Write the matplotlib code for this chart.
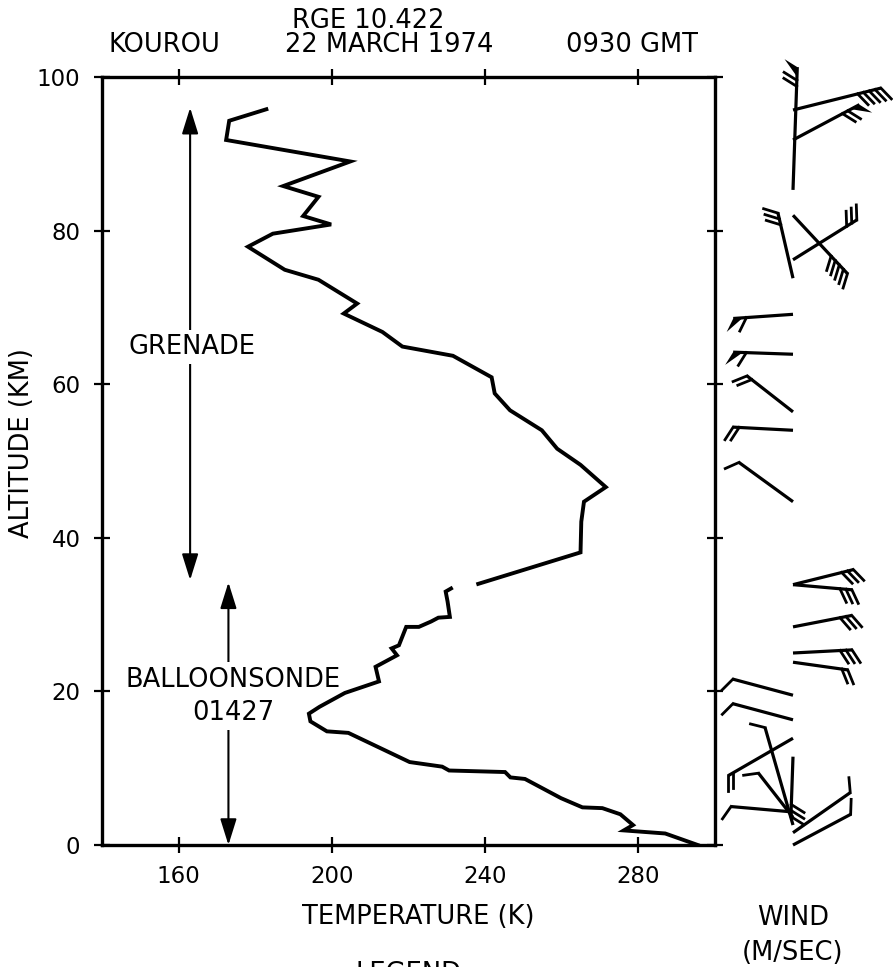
import matplotlib
matplotlib.use('Agg')
import matplotlib.pyplot as plt
import numpy as np

plt.rcParams['font.family'] = 'DejaVu Sans'

# ── 온도 프로파일 (GRENADE) ──
grenade_temp = [182.9, 173.2, 172.4, 204.8, 187.3, 196.5, 192.5, 199.8, 184.6, 178.1,
                187.7, 196.5, 206.6, 203.1, 213.2, 218.4, 231.6, 241.7, 242.5, 246.5,
                254.8, 258.8, 264.9, 271.5, 265.8, 265.1, 264.9, 238.2]
grenade_alt = [95.8, 94.3, 91.8, 89.0, 85.8, 84.4, 81.9, 80.8, 79.6, 77.9,
               74.9, 73.6, 70.5, 69.2, 66.8, 64.9, 63.7, 60.9, 58.8, 56.6,
               54.0, 51.6, 49.5, 46.6, 44.7, 42.1, 38.1, 34.0]

# ── 온도 프로파일 (BALLOONSONDE) ──
sonde_temp = [231.1, 229.7, 230.2, 230.8, 227.8, 225.9, 222.7, 219.4, 217.5, 215.6,
              217.0, 211.4, 212.3, 203.4, 196.8, 194.0, 194.4, 198.7, 204.3, 220.3,
              228.8, 230.6, 245.2, 246.6, 250.4, 259.8, 265.4, 270.6, 275.3, 278.6,
              276.2, 287.0, 295.5]
sonde_alt = [33.4, 33.0, 31.7, 29.7, 29.6, 29.1, 28.4, 28.4, 26.0, 25.6,
             24.7, 23.2, 21.3, 19.8, 18.0, 17.1, 16.1, 14.8, 14.6, 10.8,
             10.2, 9.7, 9.5, 8.8, 8.6, 6.1, 4.9, 4.8, 4.0, 2.6,
             1.9, 1.5, 0.0]

# ── 바람 (barb) ──
wind_alt = [85.3, 95.7, 91.8, 82.0, 76.2, 73.8, 69.1, 63.9, 56.4, 54.0, 44.7,
            33.9, 33.9, 28.4, 25.0, 23.8, 19.5, 16.3, 13.9, 11.5, 2.6, 3.6, 4.3, 1.6, 0.0]
wind_dir = [2, 76, 62, 137, 58, 347, 266, 272, 308, 273, 306,
            76, 95, 79, 87, 98, 285, 285, 240, 182, 344, 322, 275, 55, 62]
wind_len = [16.0, 11.8, 9.8, 10.4, 9.8, 8.7, 7.8, 7.8, 7.6, 7.8, 8.7,
            8.1, 7.7, 7.8, 7.7, 7.2, 8.1, 8.1, 9.8, 7.8, 13.2, 7.3, 8.1, 9.1, 8.5]
wind_feath = [2, 5, 2, 5, 3, 3, 1, 1, 2, 2, 1, 3, 3, 3, 3, 2, 1, 1, 2, 3, 1, 1, 1, 1, 1]
wind_flag = [1, 0, 1, 0, 0, 0, 1, 1, 0, 0, 0, 0, 0, 0, 0, 0, 0, 0, 0, 0, 0, 0, 0, 0, 0]
wind_side = [-1, 1, 1, 1, -1, -1, -1, -1, -1, -1, -1, 1, 1, 1, 1, 1,
             -1, -1, -1, -1, -1, -1, -1, -1, -1]

temp_ticks = [160, 200, 240, 280]
alt_ticks = [0, 20, 40, 60, 80, 100]

W, H = 893, 967
PX_KM = 7.68   # 1 km 당 픽셀


def fx(px):
    return px / W


def fy(py):
    return 1 - py / H


fig = plt.figure(figsize=(W / 100, H / 100), dpi=100, facecolor='white')
ax = fig.add_axes([fx(102), fy(845), (715 - 102) / W, (845 - 77) / H])

ax.plot(grenade_temp, grenade_alt, color='k', lw=2.8, solid_joinstyle='miter', zorder=5)
ax.plot(sonde_temp, sonde_alt, color='k', lw=2.8, solid_joinstyle='miter', zorder=5)

ax.set_xlim(140, 300)
ax.set_ylim(0, 100)
ax.set_xticks(temp_ticks)
ax.set_yticks(alt_ticks)
ax.tick_params(axis='both', direction='inout', length=11, width=1.6,
               labelsize=16.5, pad=9, top=True, right=True)
ax.tick_params(axis='y', pad=10)
for sp in ax.spines.values():
    sp.set_linewidth(2.4)

# ── 측정 구간 화살표 ──
arrow_kw = dict(arrowstyle='<|-|>,head_length=0.8,head_width=0.25',
                color='k', lw=1.5, mutation_scale=20, shrinkA=0, shrinkB=0)
ax.annotate('', xy=(163, 96), xytext=(163, 34.5), arrowprops=arrow_kw)
ax.annotate('', xy=(173, 34.2), xytext=(173, 0), arrowprops=arrow_kw)

ax.text(163.6, 64.8, 'GRENADE', fontsize=18.5, ha='center', va='center', zorder=3,
        bbox=dict(facecolor='white', edgecolor='none', pad=3))
ax.text(174.2, 19.4, 'BALLOONSONDE\n01427', fontsize=18.5, ha='center', va='center',
        linespacing=1.35, zorder=3,
        bbox=dict(facecolor='white', edgecolor='none', pad=3))

# ── 바람 패널 ──
axw = fig.add_axes([fx(715), fy(845), (W - 715) / W, (845 - 77) / H])
axw.set_xlim(0, (W - 715) / PX_KM)
axw.set_ylim(0, 100)
axw.axis('off')

x0 = 78 / PX_KM
fl = 15 / PX_KM
sp_ = 6 / PX_KM
for z, d, L, nf, fg, sd in zip(wind_alt, wind_dir, wind_len, wind_feath, wind_flag, wind_side):
    th = np.radians(d)
    ux, uy = np.sin(th), np.cos(th)
    tx, ty = x0 + L * ux, z + L * uy
    axw.plot([x0, tx], [z, ty], color='k', lw=2.3, clip_on=False, solid_capstyle='butt')
    fa = np.radians(d + sd * 60)
    dx, dy = np.sin(fa) * fl, np.cos(fa) * fl
    pos = 0.0
    if fg:
        bx, by = tx - ux * sp_ * 1.6, ty - uy * sp_ * 1.6
        axw.fill([tx, tx + dx, bx], [ty, ty + dy, by], color='k', clip_on=False, lw=0)
        pos = sp_ * 2.2
    for i in range(nf):
        px, py = tx - ux * pos, ty - uy * pos
        axw.plot([px, px + dx], [py, py + dy], color='k', lw=2.0, clip_on=False)
        pos += sp_

# ── 텍스트 ──
fig.text(fx(368), fy(21), 'RGE 10.422', fontsize=18.5, ha='center', va='center')
fig.text(fx(164.5), fy(45), 'KOUROU', fontsize=18.5, ha='center', va='center')
fig.text(fx(389.5), fy(45), '22 MARCH 1974', fontsize=18.5, ha='center', va='center')
fig.text(fx(632.5), fy(45), '0930 GMT', fontsize=18.5, ha='center', va='center')
fig.text(fx(22), fy(443), 'ALTITUDE (KM)', fontsize=18.5, ha='center', va='center', rotation=90)
fig.text(fx(418), fy(917), 'TEMPERATURE (K)', fontsize=18.5, ha='center', va='center')
fig.text(fx(793), fy(918), 'WIND', fontsize=18.5, ha='center', va='center')
fig.text(fx(793), fy(953), '(M/SEC)', fontsize=18.5, ha='center', va='center')
fig.text(fx(408), fy(961), 'LEGEND', fontsize=18.5, ha='center', va='top')

fig.savefig('out.png', dpi=100, facecolor='white')
plt.close()
